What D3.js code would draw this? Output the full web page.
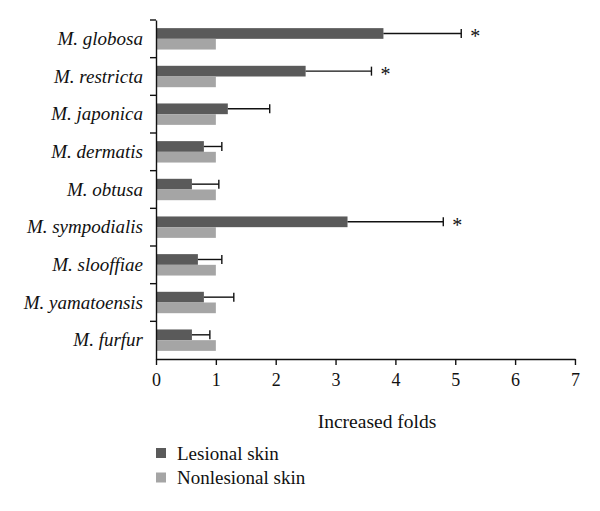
<!DOCTYPE html>
<html>
<head>
<meta charset="utf-8">
<script src="https://cdn.jsdelivr.net/npm/d3@7"></script>
<style>
  body { margin: 0; background: #fff; }
  text { font-family: "Liberation Serif", "DejaVu Serif", serif; fill: #111; }
</style>
</head>
<body>
<div id="chart"></div>
<script>
// species, top to bottom
var species = ["M. globosa", "M. restricta", "M. japonica", "M. dermatis", "M. obtusa",
               "M. sympodialis", "M. slooffiae", "M. yamatoensis", "M. furfur"];
var lesional = [3.8, 2.5, 1.2, 0.8, 0.6, 3.2, 0.7, 0.8, 0.6];
var lesionalErr = [1.3, 1.1, 0.7, 0.3, 0.45, 1.6, 0.4, 0.5, 0.3];
var nonlesional = [1, 1, 1, 1, 1, 1, 1, 1, 1];
var significant = [true, true, false, false, false, true, false, false, false];
var xTicks = [0, 1, 2, 3, 4, 5, 6, 7];
var seriesNames = ["Lesional skin", "Nonlesional skin"];

var width = 600, height = 511;
var margin = { top: 20, right: 25, bottom: 152, left: 156 };
var colors = ["#5a5a5a", "#a5a5a5"];

var svg = d3.select("#chart").append("svg")
    .attr("width", width)
    .attr("height", height);

var x = d3.scaleLinear()
    .domain([0, 7])
    .range([margin.left, margin.left + 7 * 59.85]);

var y = d3.scaleBand()
    .domain(species)
    .range([margin.top, height - margin.bottom])
    .paddingInner(0)
    .paddingOuter(0);

var bw = y.bandwidth();
var barH = 10.7;
var offset = bw / 2 - barH;   // the two bars sit centred in the band

var rows = species.map((s, i) => ({ s: s, les: lesional[i], err: lesionalErr[i], non: nonlesional[i], sig: significant[i] }));

// bars
svg.append("g")
    .selectAll("rect")
    .data(rows)
    .join("rect")
      .attr("x", x(0))
      .attr("y", d => y(d.s) + offset)
      .attr("width", d => x(d.les) - x(0))
      .attr("height", barH)
      .attr("fill", colors[0]);

svg.append("g")
    .selectAll("rect")
    .data(rows)
    .join("rect")
      .attr("x", x(0))
      .attr("y", d => y(d.s) + offset + barH)
      .attr("width", d => x(d.non) - x(0))
      .attr("height", barH)
      .attr("fill", colors[1]);

// error bars (one-sided, to the right)
var eb = svg.append("g").attr("stroke", "#111").attr("stroke-width", 1.4);
eb.selectAll("line.h")
    .data(rows)
    .join("line")
      .attr("class", "h")
      .attr("x1", d => x(d.les))
      .attr("x2", d => x(d.les + d.err))
      .attr("y1", d => y(d.s) + offset + barH / 2)
      .attr("y2", d => y(d.s) + offset + barH / 2);
eb.selectAll("line.c")
    .data(rows)
    .join("line")
      .attr("class", "c")
      .attr("x1", d => x(d.les + d.err))
      .attr("x2", d => x(d.les + d.err))
      .attr("y1", d => y(d.s) + offset + barH / 2 - 4.5)
      .attr("y2", d => y(d.s) + offset + barH / 2 + 4.5);

// asterisks
svg.append("g")
    .selectAll("text")
    .data(rows.filter(d => d.sig))
    .join("text")
      .attr("x", d => x(d.les + d.err) + 9)
      .attr("y", d => y(d.s) + offset + barH / 2 + 10)
      .style("font-size", "20px")
      .text("*");

// x axis
svg.append("g")
    .attr("transform", `translate(0,${height - margin.bottom})`)
    .call(d3.axisBottom(x).tickValues(xTicks).tickFormat(d3.format("d")).tickSize(6).tickPadding(8).tickSizeOuter(0))
    .call(g => g.selectAll("path, line").attr("stroke", "#111").attr("stroke-width", 1.4))
    .call(g => g.selectAll("text").style("font-size", "18px").style("font-family", "Liberation Serif").attr("fill", "#111"));

// y axis, ticks at the band boundaries
svg.append("g")
    .attr("transform", `translate(${margin.left},0)`)
    .call(d3.axisLeft(y).tickSize(0).tickPadding(13))
    .call(g => g.select(".domain").attr("stroke", "#111").attr("stroke-width", 1.4))
    .call(g => g.selectAll("text")
        .style("font-size", "19px")
        .style("font-family", "Liberation Serif")
        .style("font-style", "italic")
        .attr("fill", "#111"));

svg.append("g")
    .selectAll("line")
    .data(species)
    .join("line")
      .attr("x1", margin.left - 6)
      .attr("x2", margin.left)
      .attr("y1", d => y(d))
      .attr("y2", d => y(d))
      .attr("stroke", "#111")
      .attr("stroke-width", 1.4);

// axis title
svg.append("text")
    .attr("x", 377)
    .attr("y", 428)
    .attr("text-anchor", "middle")
    .style("font-size", "19.5px")
    .text("Increased folds");

// legend
var legend = svg.append("g")
    .selectAll("g")
    .data(seriesNames)
    .join("g")
      .attr("transform", (d, i) => `translate(156,${453 + i * 24.5})`);
legend.append("rect")
    .attr("x", 0)
    .attr("y", -5)
    .attr("width", 10)
    .attr("height", 10)
    .attr("fill", (d, i) => colors[i]);
legend.append("text")
    .attr("x", 21)
    .attr("y", 6.5)
    .style("font-size", "19px")
    .text(d => d);
</script>
</body>
</html>
